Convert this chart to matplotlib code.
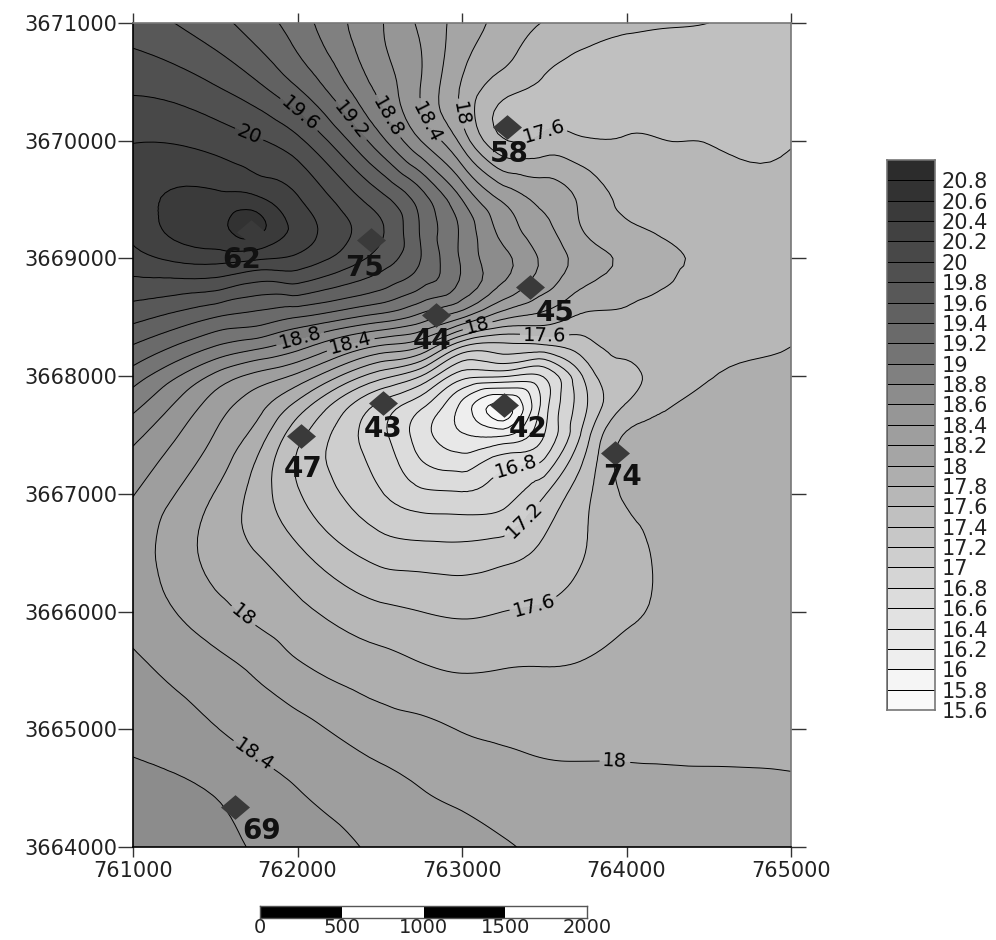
import matplotlib
matplotlib.use('Agg')
import matplotlib.pyplot as plt
import matplotlib.tri as mtri
import numpy as np

# Grid
xGrid = [761000, 761500, 761750, 762000, 762500, 762750, 763000, 763250, 763500, 763750, 764000, 764250, 764500, 765000]
yGrid = [3671000, 3670500, 3670000, 3669500, 3669250, 3669000, 3668500, 3668250, 3668000, 3667750, 3667500,
         3667000, 3666500, 3666000, 3665500, 3665000, 3664500, 3664000]
zGrid = [
    [19.70, 19.47, 19.30, 19.10, 18.62, 18.36, 18.12, 17.93, 17.79, 17.71, 17.67, 17.63, 17.60, 17.55],
    [19.94, 19.78, 19.61, 19.36, 18.72, 18.40, 17.99, 17.72, 17.58, 17.50, 17.45, 17.43, 17.42, 17.42],
    [20.19, 20.12, 20.02, 19.85, 19.07, 18.60, 18.13, 17.62, 17.66, 17.62, 17.62, 17.60, 17.59, 17.58],
    [20.33, 20.46, 20.45, 20.22, 19.68, 19.30, 18.80, 18.37, 18.15, 17.94, 17.74, 17.68, 17.66, 17.66],
    [20.25, 20.55, 20.66, 20.33, 19.83, 19.38, 18.96, 18.53, 18.25, 17.98, 17.85, 17.76, 17.70, 17.68],
    [20.13, 20.28, 20.23, 20.15, 19.72, 19.40, 18.97, 18.65, 18.36, 18.09, 17.95, 17.83, 17.76, 17.70],
    [19.66, 19.40, 19.32, 19.20, 18.92, 18.72, 18.42, 18.05, 17.92, 17.76, 17.75, 17.73, 17.70, 17.75],
    [19.38, 18.99, 18.85, 18.67, 18.17, 18.00, 17.40, 17.33, 17.35, 17.52, 17.65, 17.70, 17.75, 17.80],
    [19.10, 18.55, 18.34, 18.15, 17.48, 17.20, 16.68, 16.62, 16.62, 17.25, 17.55, 17.70, 17.79, 17.83],
    [18.86, 18.30, 18.08, 17.73, 16.95, 16.65, 16.15, 15.75, 16.50, 17.17, 17.62, 17.79, 17.85, 17.85],
    [18.66, 18.19, 17.92, 17.47, 16.86, 16.50, 16.22, 16.17, 16.60, 17.30, 17.82, 17.84, 17.85, 17.85],
    [18.41, 17.99, 17.72, 17.42, 17.02, 16.85, 16.82, 16.92, 17.18, 17.55, 17.83, 17.84, 17.85, 17.855],
    [18.32, 17.93, 17.80, 17.64, 17.32, 17.28, 17.27, 17.32, 17.44, 17.60, 17.74, 17.83, 17.85, 17.86],
    [18.33, 18.07, 17.95, 17.85, 17.65, 17.60, 17.57, 17.60, 17.63, 17.71, 17.775, 17.83, 17.86, 17.87],
    [18.45, 18.27, 18.17, 18.04, 17.89, 17.83, 17.79, 17.805, 17.81, 17.82, 17.85, 17.86, 17.87, 17.875],
    [18.55, 18.41, 18.33, 18.27, 18.09, 18.05, 17.99, 17.96, 17.94, 17.935, 17.935, 17.93, 17.93, 17.925],
    [18.66, 18.58, 18.48, 18.40, 18.27, 18.20, 18.15, 18.10, 18.06, 18.05, 18.05, 18.045, 18.04, 18.03],
    [18.75, 18.66, 18.58, 18.50, 18.37, 18.33, 18.27, 18.22, 18.16, 18.13, 18.12, 18.115, 18.11, 18.10],
]

# Contour levels and band greys, low to high
levels = [15.6, 15.8, 16, 16.2, 16.4, 16.6, 16.8, 17, 17.2, 17.4, 17.6, 17.8, 18, 18.2, 18.4, 18.6,
          18.8, 19, 19.2, 19.4, 19.6, 19.8, 20, 20.2, 20.4, 20.6, 20.8]
greys = [250, 245, 238, 232, 226, 220, 213, 206, 199, 192, 183, 174, 165, 158, 150, 140,
         128, 116, 106, 97, 88, 80, 72, 65, 58, 50, 44]

# Sample points
wellNames = ['58', '62', '75', '45', '44', '43', '47', '42', '74', '69']
wellX = [763274, 761717, 762447, 763413, 762842, 762517, 762021, 763255, 763930, 761623]
wellY = [3670116, 3669225, 3669157, 3668757, 3668519, 3667772, 3667491, 3667755, 3667347, 3664340]
nameX = [763290, 761660, 762410, 763565, 762818, 762520, 762035, 763400, 763975, 761780]
nameY = [3669890, 3668990, 3668920, 3668535, 3668300, 3667550, 3667210, 3667555, 3667140, 3664140]

# Where the contour labels sit
labelX = [761998, 762347, 762571, 762802, 762985, 761700, 763502, 762018, 762322, 763097, 763502,
          763322, 763334, 763431, 761663, 761742, 763930]
labelY = [3670204, 3670195, 3670221, 3670161, 3670221, 3670034, 3670068, 3668307, 3668264, 3668418,
          3668366, 3667267, 3666842, 3666092, 3665951, 3664798, 3664739]

scaleTicks = [0, 500, 1000, 1500, 2000]

W, H = 996, 940
fig = plt.figure(figsize=(W / 100, H / 100), dpi=100)
plt.rcParams['font.family'] = ['DejaVu Sans']


def px_axes(left, top, right, bottom):
    return fig.add_axes([left / W, 1 - bottom / H, (right - left) / W, (bottom - top) / H])


colors = [str(g / 255) for g in greys]

# Map
ax = px_axes(133, 23, 791, 847)
xx, yy = np.meshgrid(xGrid, yGrid)
tri = mtri.Triangulation((xx.ravel() - 761000) / 1000, (yy.ravel() - 3664000) / 1000)
refiner = mtri.UniformTriRefiner(tri)
zVals = np.array(zGrid).ravel()
interp = mtri.CubicTriInterpolator(tri, zVals, kind='min_E')
triFine, zFine = refiner.refine_field(zVals, triinterpolator=interp, subdiv=3)
triFine = mtri.Triangulation(triFine.x * 1000 + 761000, triFine.y * 1000 + 3664000, triFine.triangles)

ax.tricontourf(triFine, zFine, levels=levels, colors=colors, extend='max')
cs = ax.tricontour(triFine, zFine, levels=levels, colors='black', linewidths=0.7)
clab = ax.clabel(cs, levels=levels, fmt='%g', fontsize=14, inline=True, inline_spacing=3,
                 manual=list(zip(labelX, labelY)))

diamond = [(-1, 0), (0, 0.85), (1, 0), (0, -0.85), (-1, 0)]
ax.scatter(wellX, wellY, marker=diamond, s=436, color='#3a3a3a', linewidths=0, zorder=5)
for name, nx, ny in zip(wellNames, nameX, nameY):
    ax.text(nx, ny, name, fontsize=20, fontweight='bold', color='#111111', ha='center', va='center', zorder=6)

ax.set_xlim(761000, 765000)
ax.set_ylim(3664000, 3671000)
ax.set_xticks([761000, 762000, 763000, 764000, 765000])
ax.set_yticks(np.arange(3664000, 3671001, 1000))
ax.ticklabel_format(useOffset=False, style='plain')
ax.tick_params(axis='y', left=True, right=True, length=10.5, width=1, pad=1, labelsize=15, direction='out',
               color='#333333', labelcolor='#222222')
ax.tick_params(axis='x', top=True, bottom=True, length=7, width=1, pad=3, labelsize=15, direction='out',
               color='#333333', labelcolor='#222222')
for s in ['top', 'right']:
    ax.spines[s].set_color('#777777')
for s in ax.spines.values():
    s.set_linewidth(1.2)

# Colour legend
cax = px_axes(887, 160, 935, 710)
edges = np.array(levels + [21.0])
cax.pcolormesh([0, 1], edges, np.array(greys).reshape(-1, 1) / 255, cmap='gray', vmin=0, vmax=1,
               edgecolors='black', linewidth=0.6)
cax.set_ylim(15.6, 21.0)
cax.set_xlim(0, 1)
cax.set_xticks([])
cax.yaxis.tick_right()
cax.set_yticks(levels)
cax.set_yticklabels(['%g' % v for v in levels])
cax.tick_params(axis='y', length=0, pad=5, labelsize=15, labelcolor='#222222')
for s in cax.spines.values():
    s.set_color('#777777')
    s.set_linewidth(1.2)

# Scale bar
sax = px_axes(260, 906, 587, 918)
sax.set_xlim(0, 2000)
sax.set_ylim(0, 1)
for i in range(len(scaleTicks) - 1):
    sax.barh(0.5, scaleTicks[i + 1] - scaleTicks[i], left=scaleTicks[i], height=1,
             color='black' if i % 2 == 0 else 'white')
sax.set_yticks([])
sax.set_xticks(scaleTicks)
sax.tick_params(axis='x', length=0, pad=0, labelsize=14, labelcolor='#222222')
for s in sax.spines.values():
    s.set_color('#555555')
    s.set_linewidth(1.0)

fig.savefig('out.png', dpi=100, facecolor='white')
